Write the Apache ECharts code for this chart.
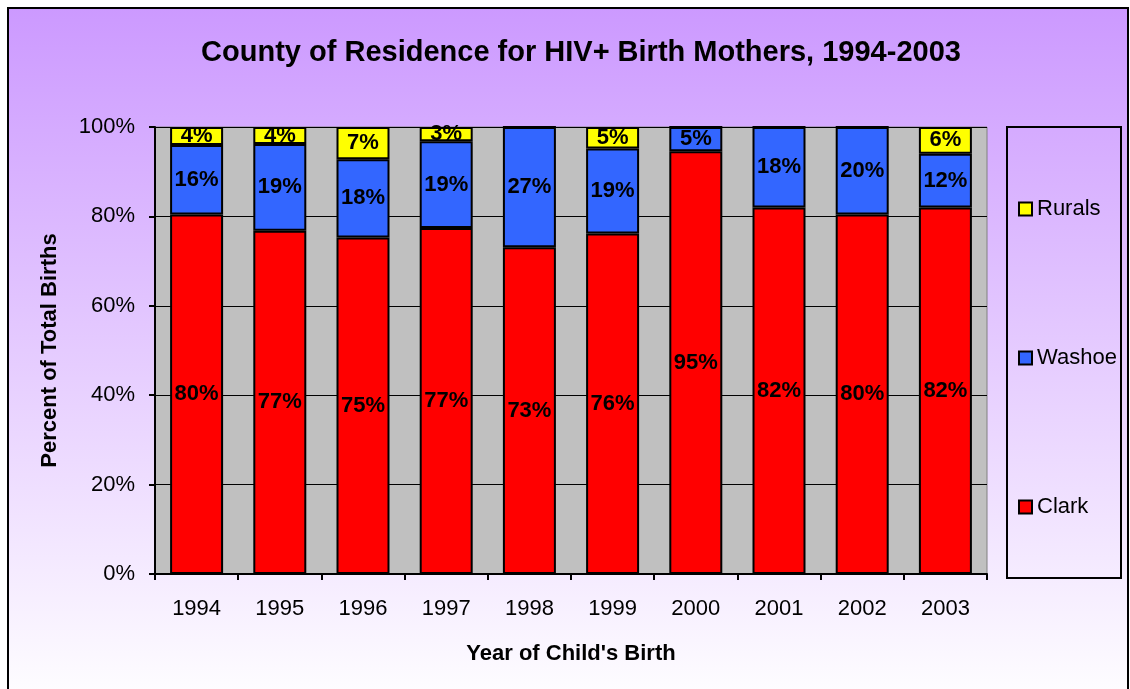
<!DOCTYPE html>
<html>
<head>
<meta charset="utf-8">
<script src="https://cdn.jsdelivr.net/npm/echarts@6/dist/echarts.min.js"></script>
<style>
html, body { margin: 0; padding: 0; background: #fff; }
#main { width: 1130px; height: 689px; }
</style>
</head>
<body>
<div id="main"></div>
<script>
// data (percent of total births)
const years = ['1994', '1995', '1996', '1997', '1998', '1999', '2000', '2001', '2002', '2003']
const clark = [80.4, 76.8, 75.3, 77.4, 73.1, 76.2, 94.6, 82.0, 80.4, 82.0]
const washoe = [15.6, 19.4, 17.5, 19.4, 26.9, 19.0, 5.4, 18.0, 19.6, 12.0]
const rurals = [4.0, 3.8, 7.2, 3.2, 0, 4.8, 0, 0, 0, 6.0]

const font = 'Liberation Sans, Arial, sans-serif'
let myChart = echarts.init(document.getElementById('main'))

const barLabel = {
    show: true,
    position: 'inside',
    color: '#000',
    fontFamily: font,
    fontWeight: 'bold',
    fontSize: 22,
    formatter: (p) => (p.value > 0 ? Math.round(p.value) + '%' : '')
}

const makeSeries = (name, values, color) => ({
    name: name,
    type: 'bar',
    stack: 'total',
    barWidth: 53,
    data: values,
    itemStyle: { color: color, borderColor: '#000', borderWidth: 2 },
    label: barLabel
})

const options = {
    animation: false,
    graphic: [
        {
            type: 'rect',
            z: -10,
            shape: { x: 8, y: 8, width: 1120, height: 700 },
            style: {
                stroke: '#000',
                lineWidth: 2,
                fill: new echarts.graphic.LinearGradient(0, 0, 0, 1, [
                    { offset: 0, color: '#CC99FF' },
                    { offset: 1, color: '#FFFFFF' }
                ])
            }
        },
        {
            // legend box
            type: 'rect',
            z: -5,
            shape: { x: 1007, y: 127, width: 114, height: 451 },
            style: { stroke: '#000', lineWidth: 2, fill: 'transparent' }
        }
    ],
    title: {
        text: 'County of Residence for HIV+ Birth Mothers, 1994-2003',
        left: 576,
        textAlign: 'center',
        top: 33,
        textStyle: { fontFamily: font, fontWeight: 'bold', fontSize: 29, color: '#000' }
    },
    legend: {
        orient: 'vertical',
        left: 1018,
        top: 198,
        padding: 0,
        itemGap: 127,
        itemWidth: 13,
        itemHeight: 13,
        icon: 'rect',
        data: ['Rurals', 'Washoe', 'Clark'],
        itemStyle: { borderColor: '#000', borderWidth: 2 },
        textStyle: { fontFamily: font, fontSize: 22, color: '#000' }
    },
    grid: {
        left: 155,
        right: 143,
        top: 127,
        bottom: 115,
        show: true,
        backgroundColor: '#C0C0C0',
        borderColor: '#808080',
        borderWidth: 1
    },
    xAxis: {
        type: 'category',
        data: years,
        name: "Year of Child's Birth",
        nameLocation: 'middle',
        nameGap: 69,
        nameTextStyle: { fontFamily: font, fontWeight: 'bold', fontSize: 22, color: '#000' },
        axisLine: { lineStyle: { color: '#000', width: 2 } },
        axisTick: { show: true, length: 6, lineStyle: { color: '#000', width: 2 } },
        axisLabel: { fontFamily: font, fontSize: 22, color: '#000', margin: 24 }
    },
    yAxis: {
        type: 'value',
        min: 0,
        max: 100,
        interval: 20,
        name: 'Percent of Total Births',
        nameLocation: 'middle',
        nameGap: 94,
        nameTextStyle: { fontFamily: font, fontWeight: 'bold', fontSize: 22, color: '#000' },
        axisLine: { show: true, lineStyle: { color: '#000', width: 2 } },
        axisTick: { show: true, length: 6, lineStyle: { color: '#000', width: 2 } },
        axisLabel: { fontFamily: font, fontSize: 22, color: '#000', margin: 20, formatter: '{value}%' },
        splitLine: { show: true, lineStyle: { color: '#000', width: 1 } }
    },
    series: [
        makeSeries('Clark', clark, '#FF0000'),
        makeSeries('Washoe', washoe, '#3366FF'),
        makeSeries('Rurals', rurals, '#FFFF00')
    ]
}

myChart.setOption(options)
</script>
</body>
</html>
